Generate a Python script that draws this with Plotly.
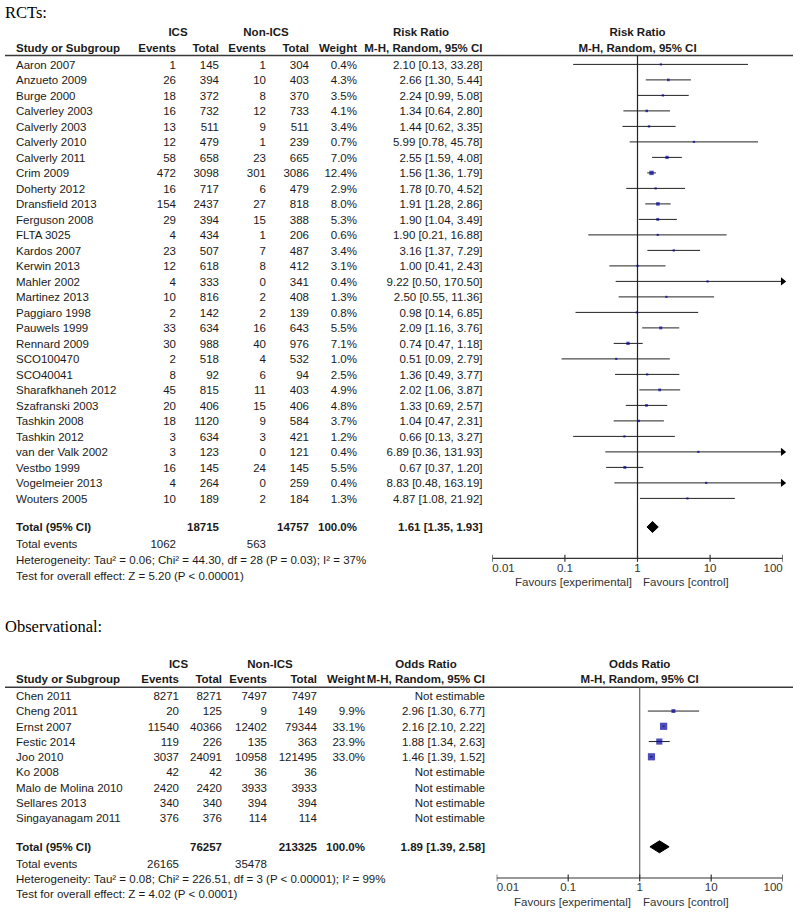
import plotly.graph_objects as go

# ---------------- data: RCTs ----------------
rct_studies = ["Aaron 2007", "Anzueto 2009", "Burge 2000", "Calverley 2003", "Calverly 2003",
               "Calverly 2010", "Calverly 2011", "Crim 2009", "Doherty 2012", "Dransfield 2013",
               "Ferguson 2008", "FLTA 3025", "Kardos 2007", "Kerwin 2013", "Mahler 2002",
               "Martinez 2013", "Paggiaro 1998", "Pauwels 1999", "Rennard 2009", "SCO100470",
               "SCO40041", "Sharafkhaneh 2012", "Szafranski 2003", "Tashkin 2008", "Tashkin 2012",
               "van der Valk 2002", "Vestbo 1999", "Vogelmeier 2013", "Wouters 2005"]
rct_ics_events = [1, 26, 18, 16, 13, 12, 58, 472, 16, 154, 29, 4, 23, 12, 4, 10, 2, 33, 30, 2, 8, 45, 20, 18, 3, 3, 16, 4, 10]
rct_ics_total = [145, 394, 372, 732, 511, 479, 658, 3098, 717, 2437, 394, 434, 507, 618, 333, 816, 142, 634, 988, 518, 92, 815, 406, 1120, 634, 123, 145, 264, 189]
rct_non_events = [1, 10, 8, 12, 9, 1, 23, 301, 6, 27, 15, 1, 7, 8, 0, 2, 2, 16, 40, 4, 6, 11, 15, 9, 3, 0, 24, 0, 2]
rct_non_total = [304, 403, 370, 733, 511, 239, 665, 3086, 479, 818, 388, 206, 487, 412, 341, 408, 139, 643, 976, 532, 94, 403, 406, 584, 421, 121, 145, 259, 184]
rct_weight = [0.4, 4.3, 3.5, 4.1, 3.4, 0.7, 7.0, 12.4, 2.9, 8.0, 5.3, 0.6, 3.4, 3.1, 0.4, 1.3, 0.8, 5.5, 7.1, 1.0, 2.5, 4.9, 4.8, 3.7, 1.2, 0.4, 5.5, 0.4, 1.3]
rct_est = [2.10, 2.66, 2.24, 1.34, 1.44, 5.99, 2.55, 1.56, 1.78, 1.91, 1.90, 1.90, 3.16, 1.00, 9.22, 2.50, 0.98, 2.09, 0.74, 0.51, 1.36, 2.02, 1.33, 1.04, 0.66, 6.89, 0.67, 8.83, 4.87]
rct_lo = [0.13, 1.30, 0.99, 0.64, 0.62, 0.78, 1.59, 1.36, 0.70, 1.28, 1.04, 0.21, 1.37, 0.41, 0.50, 0.55, 0.14, 1.16, 0.47, 0.09, 0.49, 1.06, 0.69, 0.47, 0.13, 0.36, 0.37, 0.48, 1.08]
rct_hi = [33.28, 5.44, 5.08, 2.80, 3.35, 45.78, 4.08, 1.79, 4.52, 2.86, 3.49, 16.88, 7.29, 2.43, 170.50, 11.36, 6.85, 3.76, 1.18, 2.79, 3.77, 3.87, 2.57, 2.31, 3.27, 131.93, 1.20, 163.19, 21.92]
rct_total = {"ics_total": 18715, "non_total": 14757, "ics_events": 1062, "non_events": 563,
             "est": 1.61, "lo": 1.35, "hi": 1.93}
rct_het = "Heterogeneity: Tau² = 0.06; Chi² = 44.30, df = 28 (P = 0.03); I² = 37%"
rct_test = "Test for overall effect: Z = 5.20 (P &lt; 0.00001)"

# ---------------- data: Observational ----------------
obs_studies = ["Chen 2011", "Cheng 2011", "Ernst 2007", "Festic 2014", "Joo 2010", "Ko 2008",
               "Malo de Molina 2010", "Sellares 2013", "Singayanagam 2011"]
obs_ics_events = [8271, 20, 11540, 119, 3037, 42, 2420, 340, 376]
obs_ics_total = [8271, 125, 40366, 226, 24091, 42, 2420, 340, 376]
obs_non_events = [7497, 9, 12402, 135, 10958, 36, 3933, 394, 114]
obs_non_total = [7497, 149, 79344, 363, 121495, 36, 3933, 394, 114]
obs_weight = [None, 9.9, 33.1, 23.9, 33.0, None, None, None, None]
obs_est = [None, 2.96, 2.16, 1.88, 1.46, None, None, None, None]
obs_lo = [None, 1.30, 2.10, 1.34, 1.39, None, None, None, None]
obs_hi = [None, 6.77, 2.22, 2.63, 1.52, None, None, None, None]
obs_total = {"ics_total": 76257, "non_total": 213325, "ics_events": 26165, "non_events": 35478,
             "est": 1.89, "lo": 1.39, "hi": 2.58}
obs_het = "Heterogeneity: Tau² = 0.08; Chi² = 226.51, df = 3 (P &lt; 0.00001); I² = 99%"
obs_test = "Test for overall effect: Z = 4.02 (P &lt; 0.0001)"

tick_vals = [0.01, 0.1, 1, 10, 100]
tick_text = ["0.01", "0.1", "1", "10", "100"]

# ---------------- styling / layout ----------------
W, H = 800, 914
SANS = "Liberation Sans, Arial, sans-serif"
SERIF = "Liberation Serif, Times New Roman, serif"
FS = 11.5
TXT = "#1a1a1a"
GREY = "#333333"
SQ = "#00009c"

fig = go.Figure()


def text_col(x, ys, texts, align="right", bold=False, size=FS, color=TXT, family=SANS):
    pos = {"right": "middle left", "left": "middle right", "center": "middle center"}[align]
    if bold:
        texts = ["<b>%s</b>" % t for t in texts]
    fig.add_trace(go.Scatter(x=[x] * len(ys), y=ys, text=texts, mode="text", textposition=pos,
                             textfont=dict(family=family, size=size, color=color),
                             xaxis="x", yaxis="y", hoverinfo="skip", showlegend=False,
                             cliponaxis=False))


def fmt_ci(e, l, h):
    return "%.2f [%.2f, %.2f]" % (e, l, h)


def section(cfg):
    names, ie, it, ne, nt, w, est, lo, hi = cfg["data"]
    n = len(names)
    ys = [cfg["row0"] + i * cfg["dy"] for i in range(n)]
    cx = cfg["cols"]
    # title
    text_col(5, [cfg["title_y"]], [cfg["title"]], align="left", size=16.5, color="#000", family=SERIF)
    # header
    h1, h2 = cfg["head_y"]
    text_col(cx["ics_c"], [h1], ["ICS"], align="center", bold=True)
    text_col(cx["non_c"], [h1], ["Non-ICS"], align="center", bold=True)
    text_col(cx["eff_c"], [h1], [cfg["measure"]], align="center", bold=True)
    text_col(16, [h2], ["Study or Subgroup"], align="left", bold=True)
    text_col(cx["ie"], [h2], ["Events"], bold=True)
    text_col(cx["it"], [h2], ["Total"], bold=True)
    text_col(cx["ne"], [h2], ["Events"], bold=True)
    text_col(cx["nt"], [h2], ["Total"], bold=True)
    text_col(cx["w"], [h2], ["Weight"], bold=True)
    text_col(cx["eff"], [h2], ["M-H, Random, 95% CI"], bold=True)
    # rows
    text_col(16, ys, names, align="left")
    text_col(cx["ie"], ys, [str(v) for v in ie])
    text_col(cx["it"], ys, [str(v) for v in it])
    text_col(cx["ne"], ys, [str(v) for v in ne])
    text_col(cx["nt"], ys, [str(v) for v in nt])
    text_col(cx["w"], ys, ["" if v is None else "%.1f%%" % v for v in w])
    text_col(cx["eff"], ys, ["Not estimable" if e is None else fmt_ci(e, l, h)
                             for e, l, h in zip(est, lo, hi)])
    # totals
    T = cfg["total"]
    ty, tey, hy, tsy = cfg["foot_y"]
    text_col(16, [ty], ["Total (95% CI)"], align="left", bold=True)
    text_col(cx["it"], [ty], [str(T["ics_total"])], bold=True)
    text_col(cx["nt"], [ty], [str(T["non_total"])], bold=True)
    text_col(cx["w"], [ty], ["100.0%"], bold=True)
    text_col(cx["eff"], [ty], [fmt_ci(T["est"], T["lo"], T["hi"])], bold=True)
    text_col(16, [tey], ["Total events"], align="left")
    text_col(cx["ie"], [tey], [str(T["ics_events"])])
    text_col(cx["ne"], [tey], [str(T["non_events"])])
    text_col(16, [hy], [cfg["het"]], align="left")
    text_col(16, [tsy], [cfg["test"]], align="left")

    # header rule
    fig.add_trace(go.Scatter(x=[5, 793], y=[cfg["rule_y"]] * 2, mode="lines",
                             line=dict(color="#3a3a3a", width=1.4), xaxis="x", yaxis="y",
                             hoverinfo="skip", showlegend=False))

    xa = cfg["xaxis"]
    off = cfg["mark_off"]
    # forest header
    fx = cfg["fx1"]
    text_col(fx, [cfg["fhead_y"][0]], [cfg["measure"]], align="center", bold=True)
    text_col(fx, [cfg["fhead_y"][1]], ["M-H, Random, 95% CI"], align="center", bold=True)

    # line of no effect
    fig.add_trace(go.Scatter(x=[1, 1], y=[cfg["rule_y"], cfg["axis_y"]], mode="lines",
                             line=dict(color=cfg["vcol"], width=1.2), xaxis=xa, yaxis="y",
                             hoverinfo="skip", showlegend=False))
    # CI lines
    lx, ly, ax, ay = [], [], [], []
    sx, sy, ss = [], [], []
    for i in range(n):
        if est[i] is None:
            continue
        yy = ys[i] + off
        lx += [max(lo[i], 0.01), min(hi[i], 100), None]
        ly += [yy, yy, None]
        if hi[i] > 100:
            ax.append(100)
            ay.append(yy)
        sx.append(est[i])
        sy.append(yy)
        ss.append(max(2.2, 1.25 * w[i] ** 0.5))
    fig.add_trace(go.Scatter(x=lx, y=ly, mode="lines", line=dict(color="#222", width=1),
                             xaxis=xa, yaxis="y", hoverinfo="skip", showlegend=False))
    if ax:
        fig.add_trace(go.Scatter(x=ax, y=ay, mode="markers",
                                 marker=dict(symbol="triangle-right", size=7, color="#000"),
                                 xaxis=xa, yaxis="y", hoverinfo="skip", showlegend=False,
                                 cliponaxis=False))
    fig.add_trace(go.Scatter(x=sx, y=sy, mode="markers",
                             marker=dict(symbol="square", size=ss, color=SQ, line=dict(width=0)),
                             xaxis=xa, yaxis="y", hoverinfo="skip", showlegend=False,
                             cliponaxis=False))
    # pooled diamond
    dyc = ty + off
    hh = cfg["dia_h"]
    fig.add_trace(go.Scatter(x=[T["lo"], T["est"], T["hi"], T["est"], T["lo"]],
                             y=[dyc, dyc - hh, dyc, dyc + hh, dyc], mode="lines", fill="toself",
                             fillcolor="#000", line=dict(color="#000", width=1),
                             xaxis=xa, yaxis="y", hoverinfo="skip", showlegend=False))
    # axis
    a_y = cfg["axis_y"]
    fig.add_trace(go.Scatter(x=[tick_vals[0], tick_vals[-1]], y=[a_y, a_y], mode="lines",
                             line=dict(color="#333", width=1.2), xaxis=xa, yaxis="y",
                             hoverinfo="skip", showlegend=False, cliponaxis=False))
    tx, ty_ = [], []
    for t in tick_vals:
        tx += [t, t, None]
        ty_ += [a_y - 3.5, a_y + 3.5, None]
    fig.add_trace(go.Scatter(x=tx, y=ty_, mode="lines", line=dict(color="#333", width=1.2),
                             xaxis=xa, yaxis="y", hoverinfo="skip", showlegend=False,
                             cliponaxis=False))
    fig.add_trace(go.Scatter(x=tick_vals, y=[a_y + 10.5] * len(tick_vals), text=tick_text,
                             mode="text",
                             textposition=["middle right", "middle center", "middle center",
                                           "middle center", "middle left"],
                             textfont=dict(family=SANS, size=FS, color=GREY),
                             xaxis=xa, yaxis="y", hoverinfo="skip", showlegend=False,
                             cliponaxis=False))
    text_col(cfg["fav_exp_x"], [a_y + 25], ["Favours [experimental]"], align="right", color=GREY)
    text_col(cfg["fav_ctl_x"], [a_y + 25], ["Favours [control]"], align="left", color=GREY)


RCT_DOM = (492.3, 782.7)
OBS_DOM = (496.7, 782.7)

section(dict(
    data=(rct_studies, rct_ics_events, rct_ics_total, rct_non_events, rct_non_total,
          rct_weight, rct_est, rct_lo, rct_hi),
    title="RCTs:", title_y=14, measure="Risk Ratio",
    head_y=(33.3, 49), rule_y=55.5, row0=65.7, dy=15.5,
    foot_y=(528.3, 545.5, 561.5, 576.7),
    cols=dict(ics_c=178, non_c=266, eff_c=421, ie=176, it=219, ne=266, nt=309, w=357, eff=482.5),
    total=rct_total, het=rct_het, test=rct_test,
    xaxis="x2", fx1=(RCT_DOM[0] + RCT_DOM[1]) / 2, fhead_y=(33.3, 49),
    axis_y=558.3, mark_off=-1.3, vcol="#222", dia_h=5.5,
    fav_exp_x=632, fav_ctl_x=643,
))

section(dict(
    data=(obs_studies, obs_ics_events, obs_ics_total, obs_non_events, obs_non_total,
          obs_weight, obs_est, obs_lo, obs_hi),
    title="Observational:", title_y=627.7, measure="Odds Ratio",
    head_y=(665, 680.5), rule_y=687.3, row0=697.3, dy=15.25,
    foot_y=(848.3, 865, 880, 895),
    cols=dict(ics_c=178.5, non_c=270, eff_c=426, ie=179, it=222, ne=267, nt=317, w=365, eff=485),
    total=obs_total, het=obs_het, test=obs_test,
    xaxis="x3", fx1=(OBS_DOM[0] + OBS_DOM[1]) / 2, fhead_y=(665, 680.5),
    axis_y=878, mark_off=-1.5, vcol="#666", dia_h=6,
    fav_exp_x=631, fav_ctl_x=643,
))

hidden = dict(visible=False, showgrid=False, zeroline=False, fixedrange=True)
fig.update_layout(
    width=W, height=H, autosize=False,
    margin=dict(l=0, r=0, t=0, b=0, pad=0),
    paper_bgcolor="white", plot_bgcolor="rgba(0,0,0,0)",
    showlegend=False,
    xaxis=dict(range=[0, W], domain=[0, 1], **hidden),
    yaxis=dict(range=[H, 0], domain=[0, 1], **hidden),
    xaxis2=dict(type="log", range=[-2, 2], domain=[RCT_DOM[0] / W, RCT_DOM[1] / W],
                anchor="y", **hidden),
    xaxis3=dict(type="log", range=[-2, 2], domain=[OBS_DOM[0] / W, OBS_DOM[1] / W],
                anchor="y", **hidden),
)

fig.write_html("out.html", config={"displayModeBar": False, "staticPlot": True},
               post_script="document.body.style.margin='0';document.body.style.overflow='hidden';")
